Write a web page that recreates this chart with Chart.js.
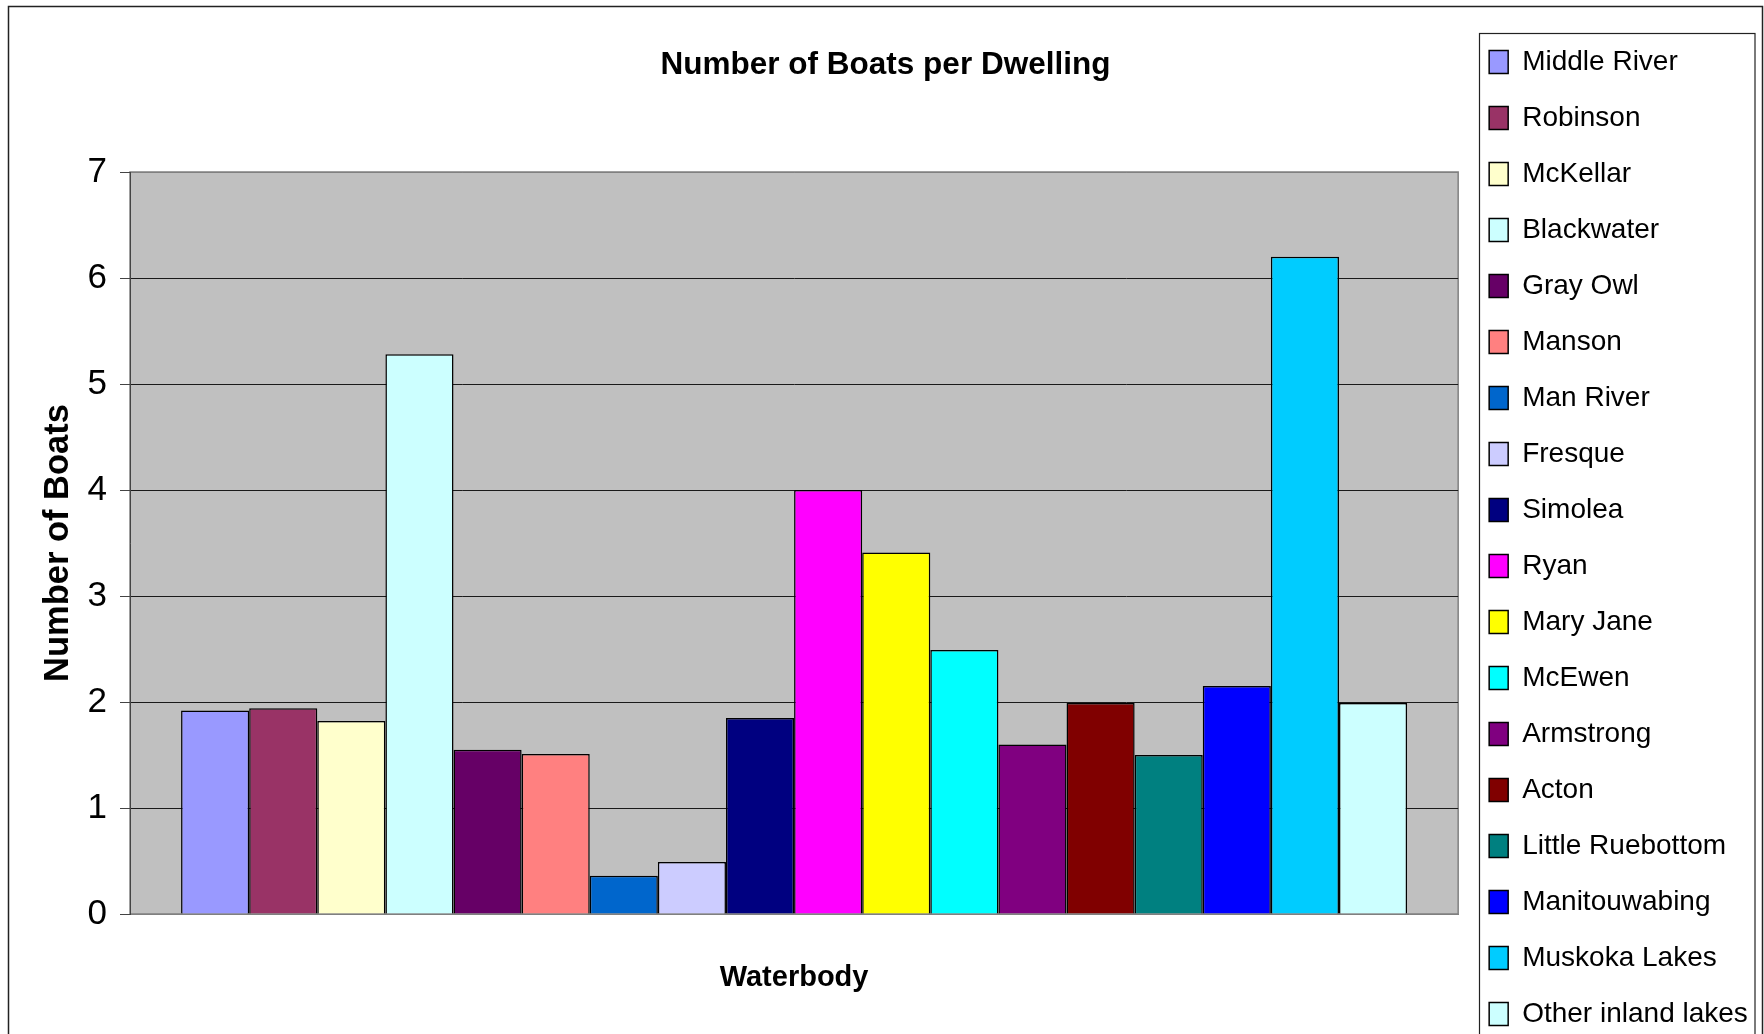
<!DOCTYPE html>
<html>
<head>
<meta charset="utf-8">
<script src="https://cdn.jsdelivr.net/npm/chart.js@4.4.1/dist/chart.umd.min.js"></script>
<style>
  html, body { margin: 0; padding: 0; background: #fff; }
  canvas { display: block; }
</style>
</head>
<body>
<canvas id="c" width="1764" height="1034"></canvas>
<script>
// ---- data ----
const waterbodies = [
  'Middle River', 'Robinson', 'McKellar', 'Blackwater', 'Gray Owl', 'Manson',
  'Man River', 'Fresque', 'Simolea', 'Ryan', 'Mary Jane', 'McEwen',
  'Armstrong', 'Acton', 'Little Ruebottom', 'Manitouwabing', 'Muskoka Lakes',
  'Other inland lakes'
];
const boatsPerDwelling = [
  1.92, 1.94, 1.82, 5.28, 1.55, 1.51,
  0.36, 0.49, 1.85, 4.00, 3.41, 2.49,
  1.60, 1.99, 1.50, 2.15, 6.20, 1.99
];
const barColors = [
  '#9999FF', '#993366', '#FFFFCC', '#CCFFFF', '#660066', '#FF8080',
  '#0066CC', '#CCCCFF', '#000080', '#FF00FF', '#FFFF00', '#00FFFF',
  '#800080', '#800000', '#008080', '#0000FF', '#00CCFF', '#CCFFFF'
];
const categoryLabels = [''];
const yMin = 0, yMax = 7, yStep = 1;
const chartTitle = 'Number of Boats per Dwelling';
const xTitle = 'Waterbody';
const yTitle = 'Number of Boats';

const FONT = "'Liberation Sans', Arial, sans-serif";

const framePlugin = {
  id: 'frame',
  beforeDraw(chart) {
    const { ctx, chartArea: a } = chart;
    ctx.save();
    ctx.fillStyle = '#fff';
    ctx.fillRect(0, 0, chart.width, chart.height);
    ctx.fillStyle = '#C0C0C0';
    ctx.fillRect(a.left, a.top, a.right - a.left, a.bottom - a.top);
    ctx.strokeStyle = '#808080';
    ctx.lineWidth = 1.5;
    ctx.strokeRect(a.left, a.top, a.right - a.left, a.bottom - a.top);
    ctx.strokeStyle = '#222';
    ctx.lineWidth = 1.5;
    ctx.strokeRect(8.5, 6.5, chart.width - 10, chart.height + 20);
    ctx.restore();
  },
  afterDraw(chart) {
    const lg = chart.legend;
    if (!lg || !lg.legendHitBoxes || !lg.legendHitBoxes.length) return;
    const hb = lg.legendHitBoxes[0];
    const { ctx } = chart;
    ctx.save();
    ctx.strokeStyle = '#222';
    ctx.lineWidth = 1.2;
    const left = Math.round(hb.left - 10) + 0.5;
    const top = Math.round(hb.top - 15) + 0.5;
    ctx.strokeRect(left, top, chart.width - 9 - left, chart.height + 40);
    ctx.restore();
  }
};

new Chart(document.getElementById('c'), {
  type: 'bar',
  data: {
    labels: categoryLabels,
    datasets: waterbodies.map((name, i) => ({
      label: name,
      data: [boatsPerDwelling[i]],
      backgroundColor: barColors[i],
      borderColor: '#000',
      borderWidth: 1.5,
      categoryPercentage: 0.9231,
      barPercentage: 1
    }))
  },
  options: {
    responsive: false,
    animation: false,
    devicePixelRatio: 1,
    color: '#000',
    layout: { padding: { top: 20, right: 15, bottom: -40, left: 22 } },
    plugins: {
      title: {
        display: true,
        text: chartTitle,
        color: '#000',
        font: { family: FONT, size: 31.5, weight: 'bold' },
        padding: { top: 26.5, bottom: 87.7 }
      },
      legend: {
        display: true,
        position: 'right',
        align: 'start',
        labels: {
          boxWidth: 19,
          boxHeight: 23,
          padding: 28,
          color: '#000',
          font: { family: FONT, size: 28 }
        }
      },
      tooltip: { enabled: false }
    },
    scales: {
      x: {
        type: 'category',
        offset: true,
        grid: { display: false, drawTicks: false },
        border: { display: true, color: '#808080', width: 1 },
        ticks: { display: false },
        title: {
          display: true,
          text: xTitle,
          color: '#000',
          font: { family: FONT, size: 29, weight: 'bold' },
          padding: { top: 0, bottom: 78.6 }
        },
        afterFit(s) { s.height = 160; }
      },
      y: {
        type: 'linear',
        position: 'left',
        min: yMin,
        max: yMax,
        ticks: {
          stepSize: yStep,
          color: '#000',
          padding: 13,
          font: { family: FONT, size: 35 }
        },
        grid: {
          color: (c) => (c.tick && (c.tick.value === yMax || c.tick.value === yMin)) ? '#808080' : '#1a1a1a',
          lineWidth: 1,
          tickLength: 10,
          tickColor: '#444'
        },
        border: { display: true, color: '#444', width: 1 },
        title: {
          display: true,
          text: yTitle,
          color: '#000',
          font: { family: FONT, size: 34.5, weight: 'bold' },
          padding: { top: 16, bottom: 0 }
        },
        afterFit(s) { s.width = 108; }
      },
      gap: {
        type: 'linear',
        position: 'right',
        display: true,
        grid: { display: false, drawTicks: false },
        border: { display: false },
        ticks: { display: false },
        afterFit(s) { s.width = 3; }
      }
    }
  },
  plugins: [framePlugin]
});
</script>
</body>
</html>
